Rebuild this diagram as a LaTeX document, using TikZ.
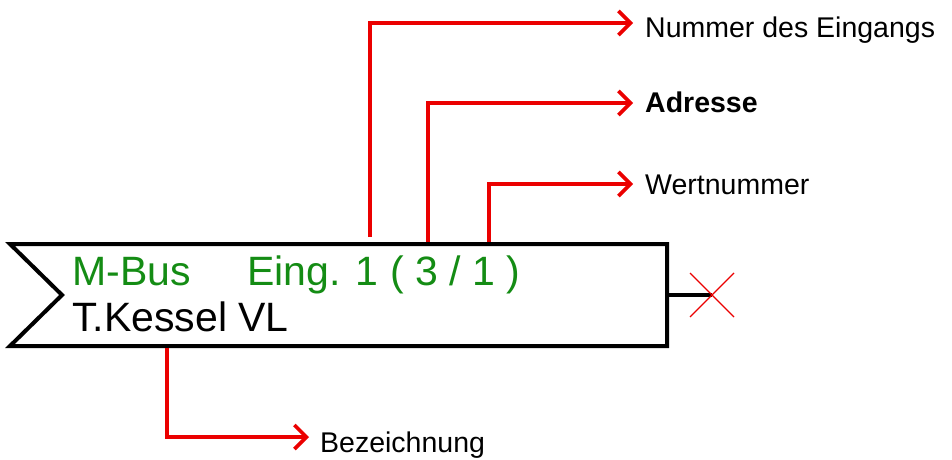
\documentclass[tikz,border=0pt]{standalone}
\usepackage{fontspec}
\setmainfont{Liberation Sans}
\usetikzlibrary{arrows.meta,calc}
\definecolor{tagreen}{RGB}{20,140,20}
\definecolor{tared}{RGB}{235,0,0}
\tikzset{
  boxline/.style={draw=black,line width=4pt,line join=miter},
  conn/.style={draw=tared,line width=3.6pt,-{Straight Barb[length=12pt,width=24pt,line width=3.6pt]}},
  lbl/.style={anchor=base west,inner sep=0pt,font=\fontsize{28.5}{28.5}\selectfont},
  boxtxt/.style={anchor=base west,inner sep=0pt,font=\fontsize{41}{41}\selectfont},
}
\begin{document}
\begin{tikzpicture}[x=1pt,y=-1pt]
\useasboundingbox (0,0) rectangle (952,459);
% box
\coordinate (bTL) at (10,244);
\coordinate (bTR) at (667,244);
\coordinate (bBR) at (667,346);
\coordinate (bBL) at (10,346);
\coordinate (bN) at (62,295);
\draw[boxline] (bTL) -- (bTR) -- (bBR) -- (bBL) -- (bN) -- cycle;
% texts in box
\node[boxtxt,text=tagreen] (mbus) at (72,285) {M-Bus};
\node[boxtxt,text=tagreen] (eing) at (247,285) {Eing. 1 ( 3 / 1 )};
\node[boxtxt] (name) at (72,331) {T.Kessel VL};
% output stub and cross
\coordinate (stubA) at (667,295);
\coordinate (xc) at (712,295);
\draw[black,line width=3.2pt] (stubA) -- (xc);
\draw[tared,line width=1.3pt] ($(xc)+(-22,-22)$) -- ($(xc)+(22,22)$) ($(xc)+(-22,22)$) -- ($(xc)+(22,-22)$);
% labels
\node[lbl] (l1) at (645,37) {Nummer des Eingangs};
\node[lbl,font=\fontsize{28.5}{28.5}\selectfont\bfseries] (l2) at (645,112) {Adresse};
\node[lbl] (l3) at (645,194) {Wertnummer};
\node[lbl] (l4) at (320,452) {Bezeichnung};
% connectors
\coordinate (s1) at (370,237);
\coordinate (s2) at (428,242);
\coordinate (s3) at (489,242);
\coordinate (s4) at (167,348);
\coordinate (t1) at (633,23);
\coordinate (t2) at (633,103);
\coordinate (t3) at (633,184);
\coordinate (t4) at (309,437);
\draw[conn] (s1) |- (t1);
\draw[conn] (s2) |- (t2);
\draw[conn] (s3) |- (t3);
\draw[conn] (s4) |- (t4);
\end{tikzpicture}
\end{document}
